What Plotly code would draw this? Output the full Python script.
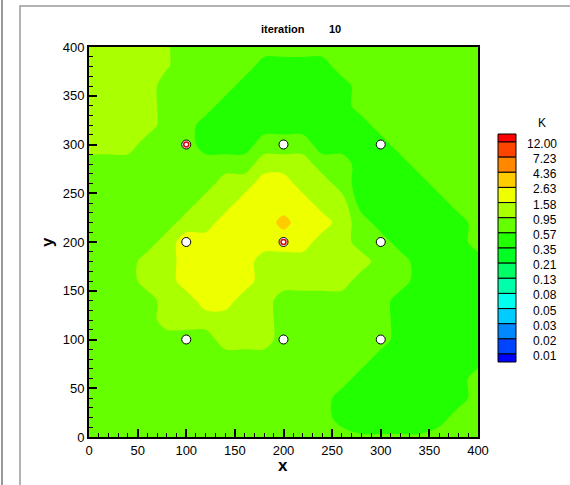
import numpy as np
import plotly.graph_objects as go

# ---------------- data ----------------
# contour levels of K (log-uniform), as printed in the legend
LEVEL_LABELS = ["0.01", "0.02", "0.03", "0.05", "0.08", "0.13", "0.21", "0.35",
                "0.57", "0.95", "1.58", "2.63", "4.36", "7.23", "12.00"]
LEVEL_MIN = 0.01
LEVEL_MAX = 12.0
# 16 colour bands, from below 0.01 up to above 12.00
BAND_COLORS = ["#0000ff", "#0044ff", "#0088ff", "#00ccff", "#00ffee", "#00ffaa",
               "#00ff66", "#00ff22", "#22ff00", "#66ff00", "#aaff00", "#eeff00",
               "#ffcc00", "#ff8800", "#ff4400", "#ff0000"]

# K field on a 20-unit grid (rows from y=0 up to y=400)
GRID_X = list(range(0, 401, 20))
GRID_Y = list(range(0, 401, 20))
K_OF_CODE = {"D": 0.45, "d": 0.60, "L": 0.74, "g": 1.00, "G": 1.23, "Y": 2.04, "O": 3.06}
K_ROWS = [
    "LLLLLLLLLLLLLLddddLLL",  # y=0
    "LLLLLLLLLLLLLDDDDDDLL",  # y=20
    "LLLLLLLLLLLLLDDDDDDDL",  # y=40
    "LLLLLLLLLLLLLLDDDDDDL",  # y=60
    "LLLLLLLLLLLLLLLDDDDDD",  # y=80
    "LLLLLLLGGGLLLLLLDDDDD",  # y=100
    "LLLLGGGGGGLLLLLLDDDDD",  # y=120
    "LLLLGGYYGGLLLLLLDDDDD",  # y=140
    "LLLGGYYYYGGGGGLLLDDDD",  # y=160
    "LLLGGYYYYGGGGGGLLDDDD",  # y=180
    "LLLLGYYYYYYYGGLLDDDDL",  # y=200
    "LLLLLGGYYYOYYGLDDDDDL",  # y=220
    "LLLLLLGGYYYYGGDDDDDLL",  # y=240
    "LLLLLLLGGYYGGLDDDDLLL",  # y=260
    "LLLLLLLLLGGGLLDDDLLLL",  # y=280
    "GGGLLLDDDLLLDDDDLLLLL",  # y=300
    "GGGGLLDDDDDDDDDLLLLLL",  # y=320
    "GGGGLLLDDDDDDDLLLLLLL",  # y=340
    "GGGGLLLLDDDDDDLLLLLLL",  # y=360
    "GGGGgLLLLDDDDLLLLLLLL",  # y=380
    "GGGGgLLLLLLLLLLLLLLLL",  # y=400
]

# sample points
POINT_X = [100, 200, 300, 100, 200, 300, 100, 200, 300]
POINT_Y = [100, 100, 100, 200, 200, 200, 300, 300, 300]
RED_X = [100, 200]
RED_Y = [300, 200]

TITLE_WORD = "iteration"
TITLE_NUM = "10"
LEGEND_TITLE = "K"

# ---------------- figure ----------------
FONT = "Arial, Liberation Sans, Helvetica, sans-serif"
W, H = 570, 485
L_PX, R_PX, T_PX, B_PX = 89, 478, 47, 437


def px_x(px):
    return (px - L_PX) / (R_PX - L_PX)


def px_y(py):
    return (B_PX - py) / (B_PX - T_PX)


K = np.array([[K_OF_CODE[c] for c in row] for row in K_ROWS])
z = np.log10(K)
lo = np.log10(LEVEL_MIN)
hi = np.log10(LEVEL_MAX)
step = (hi - lo) / (len(LEVEL_LABELS) - 1)
n = len(BAND_COLORS) - 1
colorscale = [[i / n, c] for i, c in enumerate(BAND_COLORS)]

fig = go.Figure()
fig.add_trace(go.Contour(
    x=GRID_X, y=GRID_Y, z=z,
    autocontour=False,
    contours=dict(start=lo, end=hi, size=step, coloring="fill", showlines=False),
    colorscale=colorscale, showscale=False,
    line=dict(width=0, smoothing=0.9),
    customdata=K, hovertemplate="x=%{x}<br>y=%{y}<br>K=%{customdata:.2f}<extra></extra>",
))
fig.add_trace(go.Scatter(
    x=POINT_X, y=POINT_Y, mode="markers",
    marker=dict(size=9, color="white", line=dict(color="black", width=1)),
    hoverinfo="skip", showlegend=False,
))
fig.add_trace(go.Scatter(
    x=RED_X, y=RED_Y, mode="markers",
    marker=dict(size=5, color="white", line=dict(color="#e00000", width=1.5)),
    hoverinfo="skip", showlegend=False,
))

axis_common = dict(
    range=[0, 400], tickmode="linear", tick0=0, dtick=50,
    ticks="inside", ticklen=8, tickwidth=2, tickcolor="black",
    showline=True, linecolor="black", linewidth=2, mirror=True,
    showgrid=False, zeroline=False,
    tickfont=dict(family=FONT, size=13, color="black"),
    minor=dict(dtick=10, ticks="inside", ticklen=4, tickwidth=1,
               tickcolor="black", showgrid=False),
)

shapes = []
annotations = []

# legend boxes built from levels and colours
x0, x1 = px_x(498), px_x(516)
top_px, first_px, last_px, bot_px = 134, 142, 354, 362
nlev = len(LEVEL_LABELS)
bounds = [first_px + k * (last_px - first_px) / (nlev - 1) for k in range(nlev)]
edges = [top_px] + bounds + [bot_px]
for j in range(len(BAND_COLORS)):
    color = BAND_COLORS[len(BAND_COLORS) - 1 - j]
    shapes.append(dict(type="rect", xref="paper", yref="paper",
                       x0=x0, x1=x1, y0=px_y(edges[j + 1]), y1=px_y(edges[j]),
                       fillcolor=color, line=dict(color="black", width=1)))
for k, lab in enumerate(reversed(LEVEL_LABELS)):
    annotations.append(dict(xref="paper", yref="paper", x=px_x(559), y=px_y(bounds[k] + 2),
                            text=lab, showarrow=False, xanchor="right", yanchor="middle",
                            font=dict(family=FONT, size=12, color="black")))
annotations.append(dict(xref="paper", yref="paper", x=px_x(542), y=px_y(123),
                        text=LEGEND_TITLE, showarrow=False, xanchor="center", yanchor="middle",
                        font=dict(family=FONT, size=12, color="black")))

# title
annotations.append(dict(xref="paper", yref="paper", x=px_x(259), y=px_y(29),
                        text="<b>" + TITLE_WORD + "</b>", showarrow=False,
                        xanchor="left", yanchor="middle",
                        font=dict(family=FONT, size=11, color="black")))
annotations.append(dict(xref="paper", yref="paper", x=px_x(327), y=px_y(29),
                        text="<b>" + TITLE_NUM + "</b>", showarrow=False,
                        xanchor="left", yanchor="middle",
                        font=dict(family=FONT, size=11, color="black")))
# axis titles
annotations.append(dict(xref="paper", yref="paper", x=px_x(283), y=px_y(465),
                        text="<b>x</b>", showarrow=False, xanchor="center", yanchor="middle",
                        font=dict(family=FONT, size=17, color="black")))
annotations.append(dict(xref="paper", yref="paper", x=px_x(47), y=px_y(242),
                        text="<b>y</b>", showarrow=False, xanchor="center", yanchor="middle",
                        textangle=-90, font=dict(family=FONT, size=17, color="black")))

# outer frame lines
shapes.append(dict(type="line", xref="paper", yref="paper",
                   x0=px_x(2), x1=px_x(2), y0=px_y(-5), y1=px_y(490),
                   line=dict(color="#9a9a9a", width=2)))
shapes.append(dict(type="rect", xref="paper", yref="paper",
                   x0=px_x(20), x1=px_x(580), y0=px_y(495), y1=px_y(6),
                   line=dict(color="#9a9a9a", width=1.5)))

fig.update_layout(
    width=W, height=H,
    margin=dict(l=L_PX, r=W - R_PX, t=T_PX, b=H - B_PX, autoexpand=False),
    paper_bgcolor="white", plot_bgcolor="white",
    xaxis=axis_common, yaxis=axis_common,
    shapes=shapes, annotations=annotations,
    showlegend=False,
    font=dict(family=FONT, color="black"),
)

fig.write_html(
    "out.html",
    config={"displayModeBar": False},
    post_script="document.body.style.margin='0px';document.body.style.padding='0px';"
                "document.body.style.overflow='hidden';",
)
